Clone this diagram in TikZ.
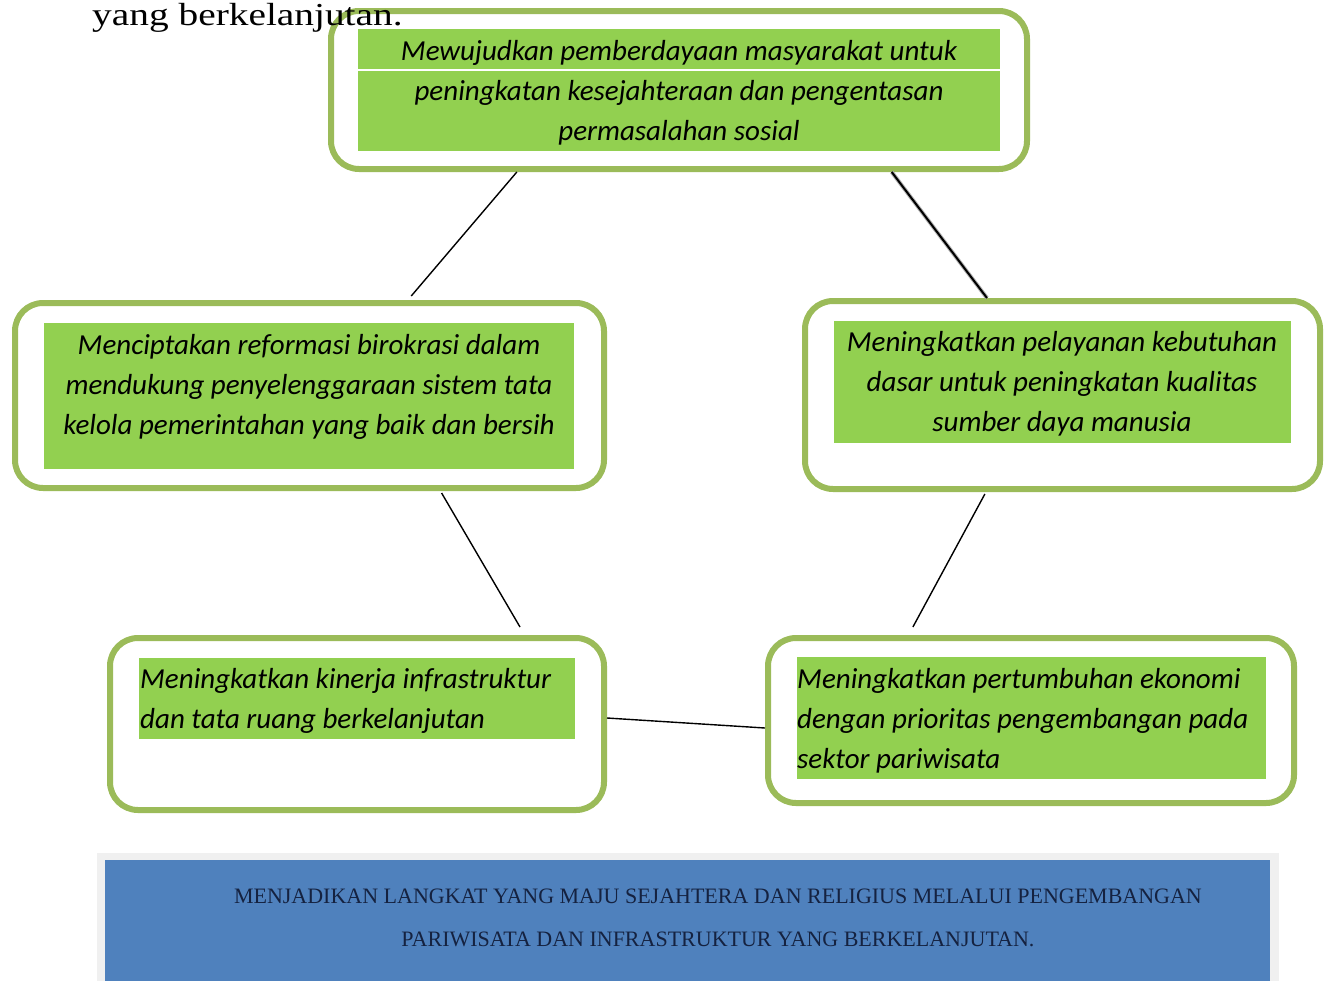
\documentclass[tikz,border=0pt]{standalone}
\usepackage{fontspec}
\setmainfont{Carlito}
\newfontfamily\serifA{Liberation Serif}
\usetikzlibrary{calc}
\definecolor{boxline}{HTML}{9BBB59}
\definecolor{boxfill}{HTML}{92D050}
\definecolor{bluefill}{HTML}{4F81BD}
\definecolor{navytext}{HTML}{152240}
\begin{document}
\begin{tikzpicture}[x=1pt,y=-1pt,
  outerbox/.style={draw=boxline, line width=6pt, rounded corners=28pt, fill=white, inner sep=0pt},
  greenbox/.style={fill=boxfill, inner sep=0pt},
  goaltext/.style={font=\fontsize{29}{40}\selectfont\itshape, inner sep=0pt},
  link/.style={draw=black, line width=1.4pt}]
\useasboundingbox (0,0) rectangle (1333,980);

% top box
\node[outerbox, minimum width=696pt, minimum height=158pt] (top) at (679,90) {};
\node[greenbox, minimum width=642pt, minimum height=122pt] (topfill) at (679,90) {};
\draw[white, line width=1.5pt] ($(topfill.north west)+(0,41)$) -- ($(topfill.north east)+(0,41)$);
\node[goaltext, align=center] (toptext) at (679,93) {Mewujudkan pemberdayaan masyarakat untuk\\ peningkatan kesejahteraan dan pengentasan\\ permasalahan sosial};

% heading fragment (printed over the top box)
\node[anchor=base west, inner sep=0pt, xscale=1.23, font=\serifA\fontsize{32}{38}\selectfont] (head) at (92,25) {yang berkelanjutan.};

% left middle
\node[outerbox, minimum width=589pt, minimum height=185pt] (left) at (309.5,395.5) {};
\node[greenbox, minimum width=530pt, minimum height=146pt] (leftfill) at (309,396) {};
\node[goaltext, align=center] (lefttext) at (309,387) {Menciptakan reformasi birokrasi dalam\\ mendukung penyelenggaraan sistem tata\\ kelola pemerintahan yang baik dan bersih};

% right middle
\node[outerbox, minimum width=515pt, minimum height=188pt] (right) at (1062.5,395) {};
\node[greenbox, minimum width=457pt, minimum height=122pt] (rightfill) at (1062.5,382) {};
\node[goaltext, align=center] (righttext) at (1062,384) {Meningkatkan pelayanan kebutuhan\\ dasar untuk peningkatan kualitas\\ sumber daya manusia};

% bottom left
\node[outerbox, minimum width=494pt, minimum height=172pt] (bl) at (357,724) {};
\node[greenbox, minimum width=436pt, minimum height=81pt] (blfill) at (357,698.5) {};
\node[goaltext, align=left, anchor=west] (bltext) at (140,701) {Meningkatkan kinerja infrastruktur\\ dan tata ruang berkelanjutan};

% bottom right
\node[outerbox, minimum width=526pt, minimum height=165pt] (br) at (1031,720.5) {};
\node[greenbox, minimum width=469pt, minimum height=122pt] (brfill) at (1031.5,718) {};
\node[goaltext, align=left, anchor=west] (brtext) at (797,721) {Meningkatkan pertumbuhan ekonomi\\ dengan prioritas pengembangan pada\\ sektor pariwisata};

% connectors
\draw[link] ($(top.south west)!0.269!(top.south east)$) -- ($(left.north west)!0.671!(left.north east)+(0,-4)$);
\draw[line width=4pt, black!30] ($(top.south west)!0.803!(top.south east)$) -- ($(right.north west)!0.355!(right.north east)$);
\draw[line width=2pt, black] ($(top.south west)!0.803!(top.south east)$) -- ($(right.north west)!0.355!(right.north east)$);
\draw[link] ($(left.south west)!0.722!(left.south east)+(0,2)$) -- ($(bl.north west)!0.826!(bl.north east)+(0,-8)$);
\draw[link] ($(right.south west)!0.351!(right.south east)+(0,2)$) -- ($(br.north west)!0.278!(br.north east)+(0,-8)$);
\draw[link] ($(bl.east)+(0,-6)$) -- ($(br.west)+(0,7.5)$);

% vision banner
\fill[gray!12] (97,853) rectangle (1279,990);
\node[fill=bluefill, inner sep=0pt, minimum width=1165pt, minimum height=130pt, anchor=north west] (vision) at (105,860) {};
\node[align=center, text=navytext, inner sep=0pt, font=\serifA\fontsize{22}{43}\selectfont] (visiontext) at (718,918) {MENJADIKAN LANGKAT YANG MAJU SEJAHTERA DAN RELIGIUS MELALUI PENGEMBANGAN\\ PARIWISATA DAN INFRASTRUKTUR YANG BERKELANJUTAN.};
\end{tikzpicture}
\end{document}
